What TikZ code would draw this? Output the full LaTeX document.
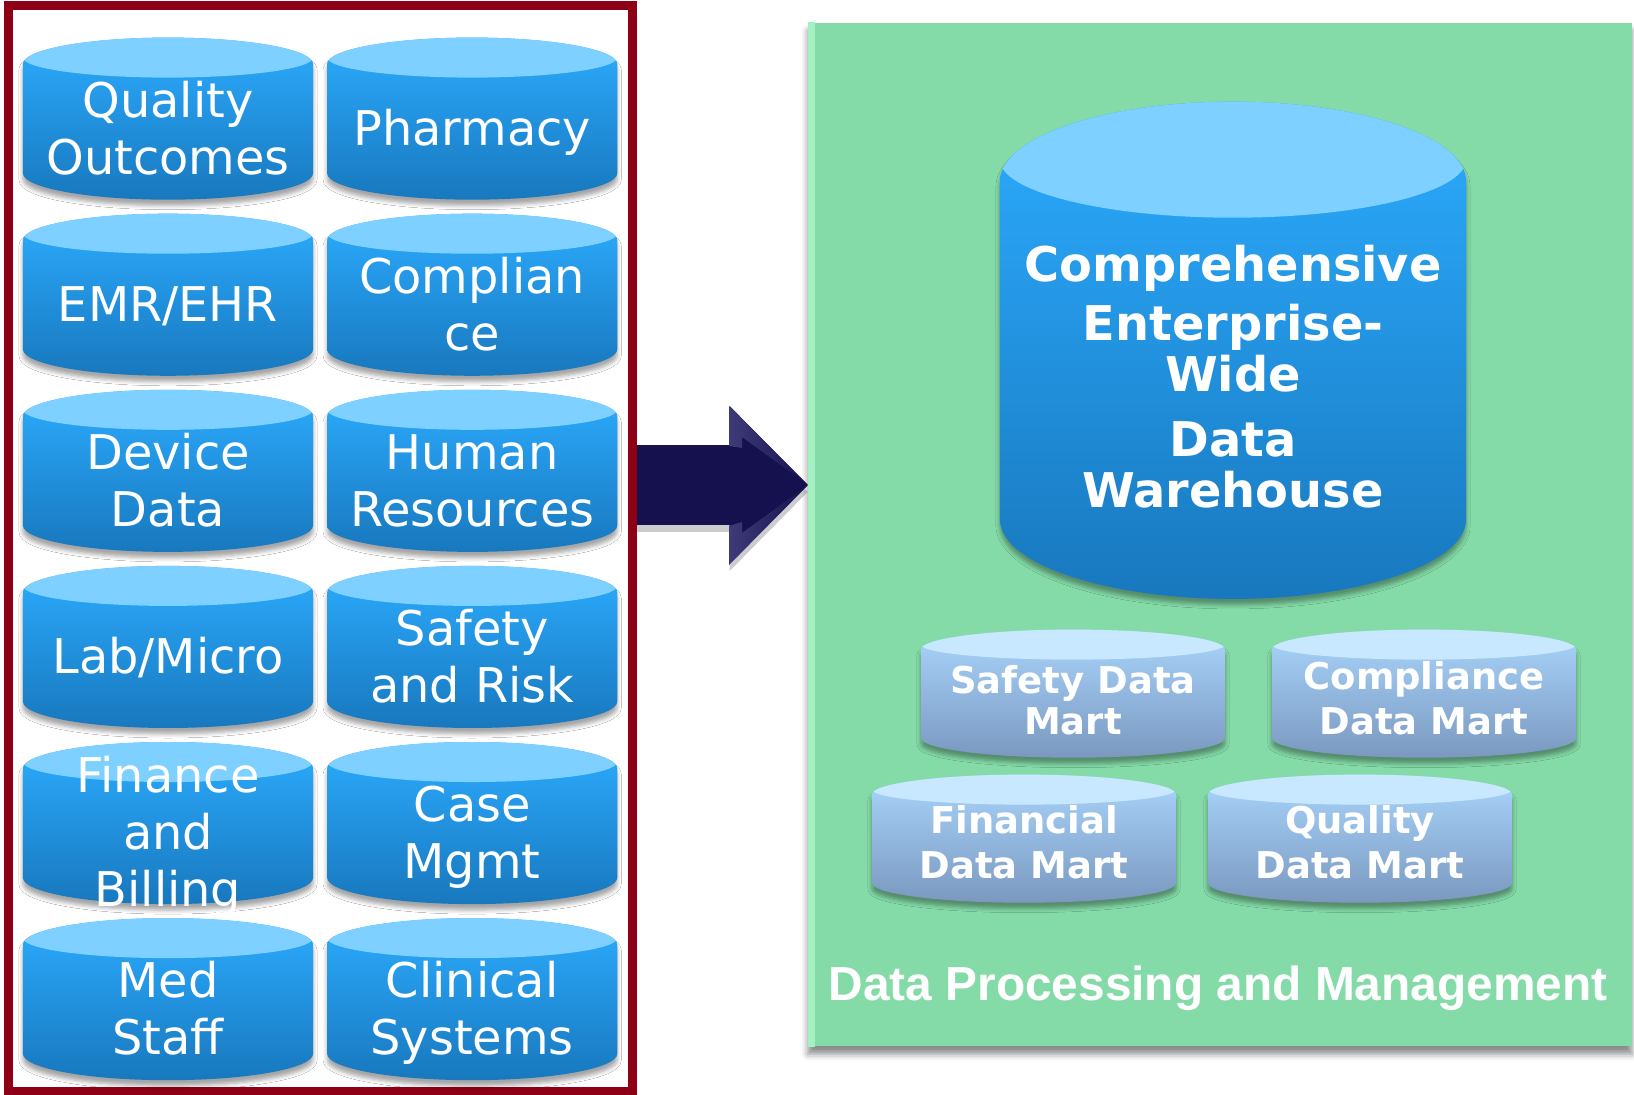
\documentclass[tikz,border=0pt]{standalone}
\usepackage{fontspec}
\setmainfont{DejaVu Sans}
\newfontfamily\captionface{Liberation Sans}
\usetikzlibrary{arrows.meta,positioning,shadows.blur,shapes.geometric}
\definecolor{framered}{HTML}{8E0016}
\definecolor{panelgreen}{HTML}{84DBA8}
\definecolor{paneledge}{HTML}{A5F0C3}
\definecolor{arrowblue}{HTML}{15104E}
\definecolor{arrowlight}{HTML}{3F3B78}
\definecolor{drumtop}{HTML}{2CACFF}
\definecolor{drumbottom}{HTML}{1878BE}
\definecolor{drumlid}{HTML}{7DD0FF}
\definecolor{marttop}{HTML}{AAD6FC}
\definecolor{martbottom}{HTML}{7A98C0}
\definecolor{martlid}{HTML}{C8E8FF}
\newcommand{\stack}[2][-4.15pt]{\makebox[\stackwidth]{\smash{\raisebox{#1}{\begin{tabular}{@{}c@{}}#2\end{tabular}}}}}
\tikzstyle{drumbase} = [cylinder,shape border rotate=90,outer sep=0pt,inner sep=0pt,text=white,
  blur shadow={shadow xshift=0pt,shadow yshift=-.06cm,shadow blur radius=.04cm,shadow opacity=35}]
\tikzstyle{drum} = [drumbase,aspect=.182,minimum width=2.9cm,minimum height=1.62cm,
  top color=drumtop,bottom color=drumbottom,
  font=\fontsize{13.6}{16.2}\selectfont,execute at begin node={\def\stackwidth{2.9cm}},
  path picture={\fill[drumlid] ([yshift=-.2cm]path picture bounding box.north) ellipse [x radius=1.45cm,y radius=.2cm];}]
\tikzstyle{bigdrum} = [drumbase,aspect=.342,minimum width=4.66cm,minimum height=4.97cm,
  top color=drumtop,bottom color=drumbottom,
  font=\fontsize{13.6}{14}\selectfont\bfseries,execute at begin node={\def\stackwidth{4.66cm}},
  path picture={\fill[drumlid] ([yshift=-.58cm]path picture bounding box.north) ellipse [x radius=2.33cm,y radius=.58cm];}]
\tikzstyle{mart} = [drumbase,aspect=.13,minimum width=3.04cm,minimum height=1.28cm,
  top color=marttop,bottom color=martbottom,
  font=\fontsize{10.5}{12.8}\selectfont\bfseries,execute at begin node={\def\stackwidth{3.04cm}},
  path picture={\fill[martlid] ([yshift=-.15cm]path picture bounding box.north) ellipse [x radius=1.52cm,y radius=.15cm];}]

\begin{document}
\begin{tikzpicture}[x=.01cm,y=-.01cm,node distance=1.76cm and 3.04cm,on grid]
   \useasboundingbox (0,0) rectangle (1634,1095);

   \node[draw=framered,line width=.09cm,fill=white,minimum width=6.235cm,minimum height=10.85cm,outer sep=0pt] (frame) at (320.5,548.5) {};
   \node[fill=panelgreen,minimum width=8.24cm,minimum height=10.23cm,outer sep=0pt,
     blur shadow={shadow xshift=0pt,shadow yshift=-.08cm,shadow blur radius=.06cm,shadow opacity=45},
     path picture={\shade[left color=paneledge,right color=panelgreen] (path picture bounding box.north west) rectangle ([xshift=.07cm]path picture bounding box.south west);}] (panel) at (1220,534.5) {};

   % feeds
   \node[drum] (quality) at (168,132.2) {\stack{Quality\\Outcomes}};
   \node[drum] (emr) [below=of quality] {\stack{EMR/EHR}};
   \node[drum] (device) [below=of emr] {\stack{Device\\Data}};
   \node[drum] (lab) [below=of device] {\stack{Lab/Micro}};
   \node[drum] (medstaff) [below=3.52cm of lab] {\stack{Med\\Staff}};
   \node[drum] (finance) [below=of lab] {\stack{Finance\\and\\Billing}};
   \node[drum] (pharmacy) [right=of quality] {\stack{Pharmacy}};
   \node[drum] (compliance) [below=of pharmacy] {\stack{Complian\\ce}};
   \node[drum] (human) [below=of compliance] {\stack{Human\\Resources}};
   \node[drum] (safety) [below=of human] {\stack{Safety\\and Risk}};
   \node[drum] (casemgmt) [below=of safety] {\stack{Case\\Mgmt}};
   \node[drum] (clinical) [below=of casemgmt] {\stack{Clinical\\Systems}};

   % warehouse and marts
   \node[bigdrum] (warehouse) at (1233,390.5) {\stack[-1.56pt]{Comprehensive\\[2.3pt]Enterprise-\\Wide\\[4.3pt]Data\\Warehouse}};
   \node[mart] (safetymart) at (1073,703.9) {\stack[-3.1pt]{Safety Data\\[-1.2pt]Mart}};
   \node[mart] (compliancemart) at (1424,703.9) {\stack[-2.5pt]{Compliance\\Data Mart}};
   \node[mart] (financialmart) at (1024,848.9) {\stack[-2.3pt]{Financial\\Data Mart}};
   \node[mart] (qualitymart) at (1360,848.9) {\stack[-2.3pt]{Quality\\Data Mart}};
   \node[text=white,font=\captionface\fontsize{13.6}{16}\selectfont\bfseries] (caption) at (1218,988) {Data Processing and Management};

   \coordinate (tail) at (637,485);
   \path[draw=black,opacity=.2,line width=.8cm,-{Triangle[length=.78cm,width=1.53cm]}] ([yshift=-2pt]tail) -- ([yshift=-2pt]tail -| panel.west);
   \path[draw=arrowblue,line width=.8cm,-{Triangle[length=.78cm,width=1.53cm]}] (tail) -- (tail -| panel.west);
   \shade[left color=arrowlight,right color=arrowblue] (729,406) -- (808,485) -- (742,437) -- (742,448) -- (729,446) -- cycle;
   \shade[left color=arrowlight,right color=arrowblue] (729,565) -- (808,485) -- (742,533) -- (742,522) -- (729,526) -- cycle;
\end{tikzpicture}
\end{document}
